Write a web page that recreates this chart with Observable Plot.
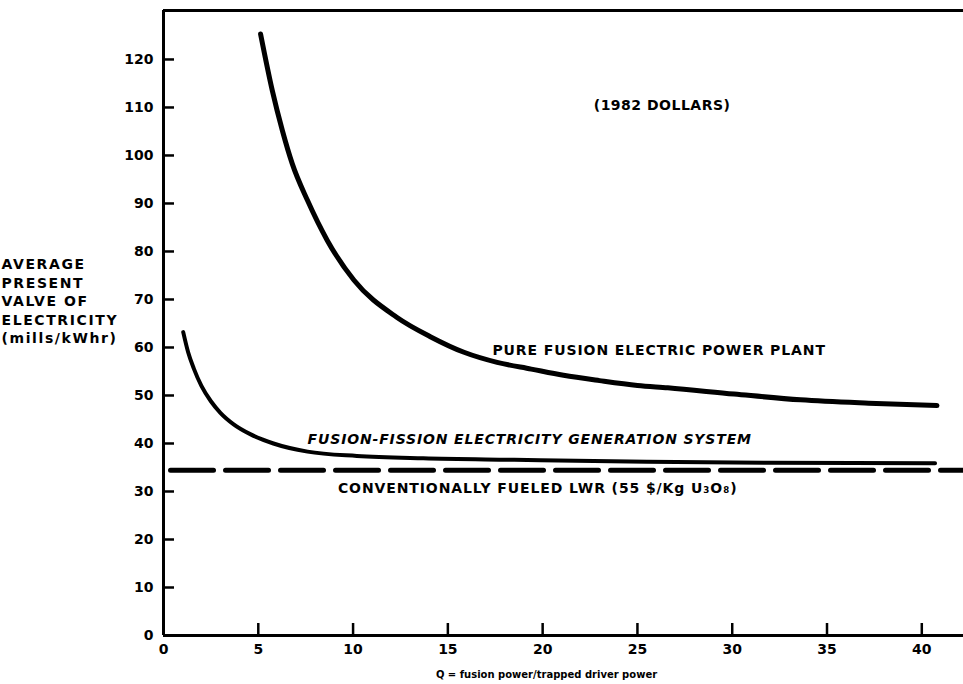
<!DOCTYPE html>
<html><head><meta charset="utf-8">
<script src="https://cdn.jsdelivr.net/npm/d3@7"></script>
<script src="https://cdn.jsdelivr.net/npm/@observablehq/plot@0.6"></script>
<style>
body{margin:0;background:#fff;}
#chart svg text{font-family:"DejaVu Sans",sans-serif;font-weight:bold;}
</style></head><body><div id="chart"></div>
<script>
// Pure fusion electric power plant
const pureQ = [5.12, 5.74, 6.27, 6.79, 7.6, 8.64, 10.05, 12.3, 14.1, 15.85, 17.6, 19.4, 21.1, 23.0, 25.0, 26.6, 30.1, 33.6, 37.2, 40.8];
const pureV = [125.3, 113.5, 105.2, 98.3, 90.6, 82.3, 74.0, 66.3, 62.2, 59.0, 56.9, 55.5, 54.2, 53.1, 52.1, 51.6, 50.3, 49.1, 48.4, 47.9];
// Fusion-fission electricity generation system
const ffQ = [1.04, 1.3, 1.6, 2.0, 2.5, 3.0, 3.7, 4.6, 5.8, 7.6, 10.2, 13.7, 18.5, 25.5, 32.0, 40.7];
const ffV = [63.2, 59.0, 55.6, 52.0, 48.8, 46.4, 44.0, 41.9, 40.0, 38.3, 37.4, 36.9, 36.6, 36.2, 36.0, 35.9];
// Conventionally fueled LWR (constant)
const lwrQ = [0.37, 42.2];
const lwrV = [34.4, 34.4];

const xTicks = [0, 5, 10, 15, 20, 25, 30, 35, 40];
const yTicks = [0, 10, 20, 30, 40, 50, 60, 70, 80, 90, 100, 110, 120];
const xDomain = [0, 42.2];
const yDomain = [0, 130.2];

const yLabel = "AVERAGE\nPRESENT\nVALVE OF\nELECTRICITY\n(mills/kWhr)";
const xLabel = "Q = fusion power/trapped driver power";
const dollarNote = [{q: 26.3, v: 110.4, text: "(1982 DOLLARS)"}];
const curveNotes = [
  {q: 17.35, v: 59.4, text: "PURE FUSION ELECTRIC POWER PLANT"},
  {q: 9.2, v: 30.6, text: "CONVENTIONALLY FUELED LWR (55 $/Kg U\u2083O\u2088)"}
];
const ffNote = [{q: 7.6, v: 40.8, text: "FUSION-FISSION ELECTRICITY GENERATION SYSTEM"}];

const pure = pureQ.map((q, i) => ({q, v: pureV[i]}));
const ff = ffQ.map((q, i) => ({q, v: ffV[i]}));
const lwr = lwrQ.map((q, i) => ({q, v: lwrV[i]}));

const W = 963, H = 684, ML = 163, MR = 0, MT = 10, MB = 49;
const frameW = W - ML - MR, frameH = H - MT - MB;

const chart = Plot.plot({
  width: W, height: H,
  marginLeft: ML, marginRight: MR, marginTop: MT, marginBottom: MB,
  x: {domain: xDomain, label: null},
  y: {domain: yDomain, label: null},
  style: {background: "#fff", color: "#000", fontSize: "14px"},
  marks: [
    Plot.axisX({ticks: xTicks, tickSize: 0, tickPadding: 9, fontSize: 14, fontWeight: "bold"}),
    Plot.axisY({ticks: yTicks, tickSize: 0, tickPadding: 10, fontSize: 14, fontWeight: "bold"}),
    Plot.tickY(yTicks, {y: d => d, insetRight: frameW - 11, strokeWidth: 2.5}),
    Plot.tickX(xTicks.filter(d => d > 0), {x: d => d, insetTop: frameH - 12, strokeWidth: 2.5}),
    Plot.ruleX([0], {strokeWidth: 3}),
    Plot.ruleY([0], {strokeWidth: 3}),
    Plot.ruleY([yDomain[1]], {strokeWidth: 3}),
    Plot.line(lwr, {x: "q", y: "v", strokeWidth: 5, strokeDasharray: "43,12"}),
    Plot.line(pure, {x: "q", y: "v", strokeWidth: 5, curve: "monotone-x", strokeLinecap: "round"}),
    Plot.line(ff, {x: "q", y: "v", strokeWidth: 4, curve: "monotone-x", strokeLinecap: "round"}),
    Plot.text(dollarNote, {x: "q", y: "v", text: "text", textAnchor: "middle", fontSize: 14, fontWeight: "bold"}),
    Plot.text(curveNotes, {x: "q", y: "v", text: "text", textAnchor: "start", fontSize: 14, fontWeight: "bold"}),
    Plot.text(ffNote, {x: "q", y: "v", text: "text", textAnchor: "start", fontSize: 14, fontWeight: "bold", fontStyle: "italic"}),
    Plot.text([yLabel], {frameAnchor: "left", y: [69.8], dx: -ML + 1, textAnchor: "start", lineHeight: 1.32, fontSize: 14, fontWeight: "bold"}),
    Plot.text([xLabel], {frameAnchor: "bottom", dy: 42, dx: -17, fontSize: 10, fontWeight: "bold"})
  ]
});
document.getElementById("chart").appendChild(chart);
const groups = d3.select(chart).selectAll('g[aria-label="text"]').nodes();
if (groups.length >= 5) {
  d3.select(groups[0]).style("letter-spacing", "0.5px");
  d3.select(groups[1]).style("letter-spacing", "0.9px");
  d3.select(groups[2]).style("letter-spacing", "0.85px");
  d3.select(groups[3]).style("letter-spacing", "1.6px");
}
</script></body></html>
